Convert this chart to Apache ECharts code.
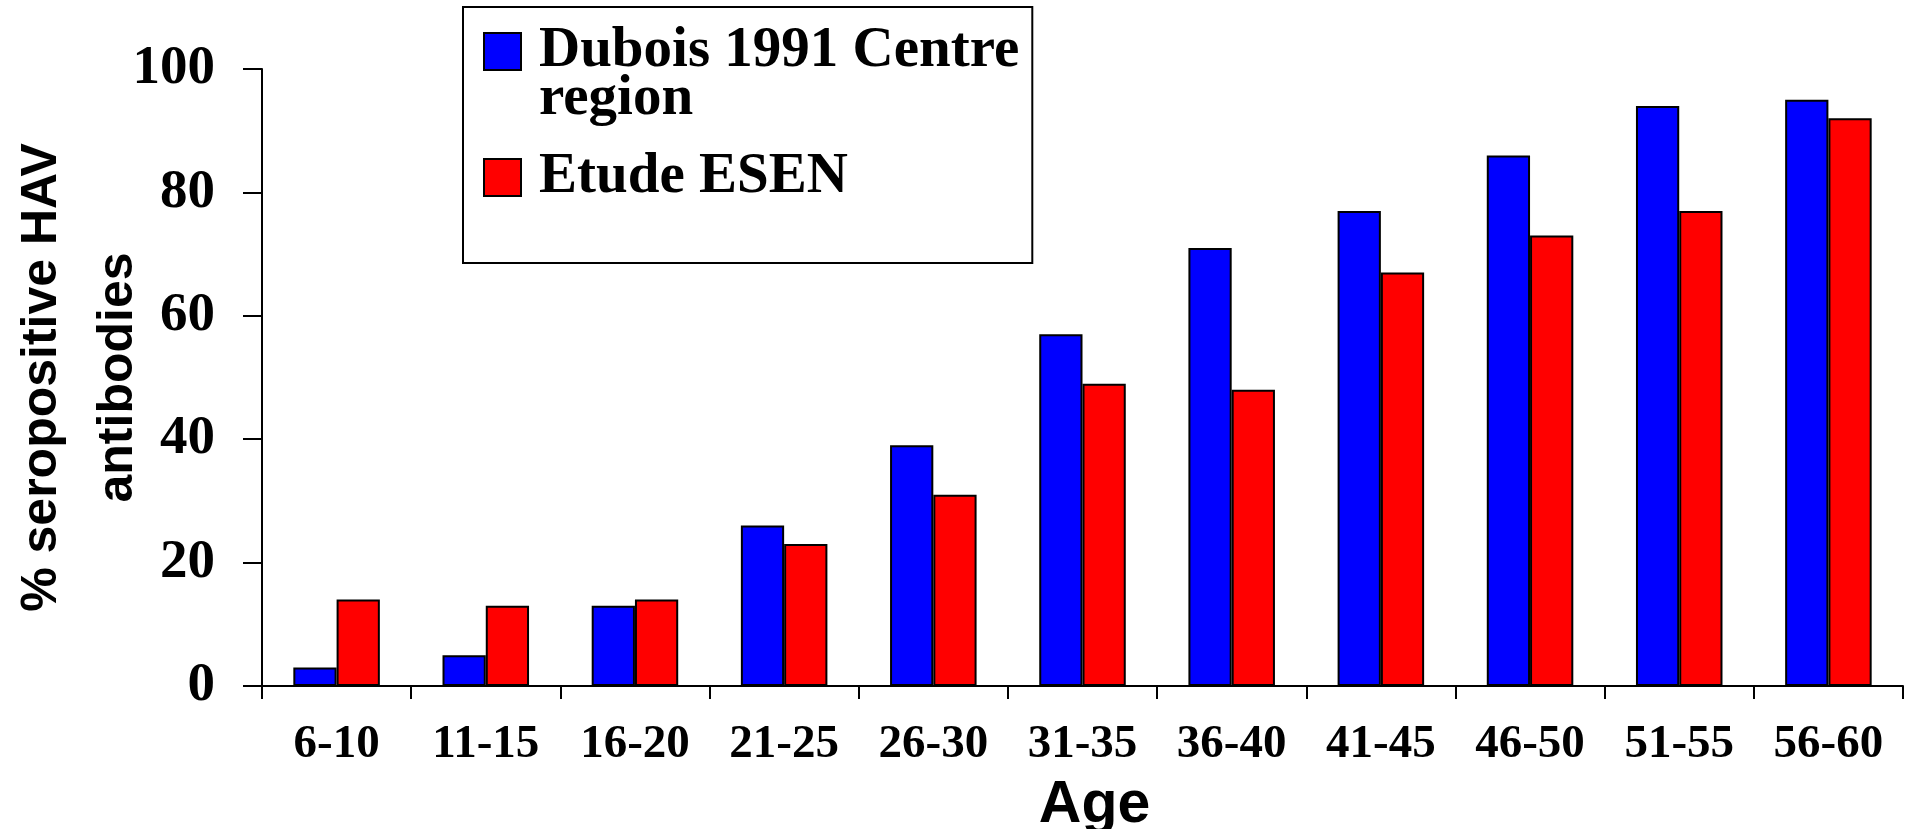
<!DOCTYPE html>
<html>
<head>
<meta charset="utf-8">
<title>HAV seroprevalence by age</title>
<script src="https://cdn.jsdelivr.net/npm/echarts@6/dist/echarts.min.js"></script>
<style>
  html, body { margin: 0; padding: 0; background: #fff; }
  #chart { width: 1913px; height: 829px; }
</style>
</head>
<body>
<div id="chart"></div>
<script>
// age groups on the x axis
var ageGroups = ['6-10', '11-15', '16-20', '21-25', '26-30', '31-35', '36-40', '41-45', '46-50', '51-55', '56-60'];
// % seropositive
var dubois = [3, 5, 13, 26, 39, 57, 71, 77, 86, 94, 95];
var esen = [14, 13, 14, 23, 31, 49, 48, 67, 73, 77, 92];
var seriesNames = ['Dubois 1991 Centre\nregion', 'Etude ESEN'];

var serif = '"Liberation Serif", "Times New Roman", serif';
var sans = '"Liberation Sans", Arial, sans-serif';

// legend swatches: square at the top of a tall item box (so it sits on the first line)
// and a square in the middle of the same box for the one-line entry
var swatchTop = 'path://M0,0h37v37h-37z M37,85';
var swatchMid = 'path://M0,0 M0,24h37v37h-37z M37,85';

var myChart = echarts.init(document.getElementById('chart'));
var option;

option = {
  animation: false,
  backgroundColor: '#fff',
  grid: {
    left: 262,
    right: 10,
    top: 69,
    bottom: 143,
    containLabel: false,
    outerBoundsMode: 'none'
  },
  legend: {
    left: 463,
    top: 7,
    orient: 'vertical',
    padding: [16, 13, 42, 20],
    itemGap: 6,
    itemWidth: 37,
    itemHeight: 85,
    borderColor: '#000',
    borderWidth: 2,
    backgroundColor: '#fff',
    itemStyle: {
      borderColor: '#000',
      borderWidth: 2
    },
    textStyle: {
      fontFamily: serif,
      fontWeight: 'bold',
      fontSize: 57,
      lineHeight: 48,
      color: '#000',
      padding: [0, 0, 0, 13]
    },
    data: [
      { name: seriesNames[0], icon: swatchTop },
      { name: seriesNames[1], icon: swatchMid }
    ]
  },
  xAxis: {
    type: 'category',
    data: ageGroups,
    name: 'Age',
    nameLocation: 'middle',
    nameGap: 90,
    nameMoveOverlap: false,
    nameTextStyle: {
      fontFamily: sans,
      fontWeight: 'bold',
      fontSize: 59,
      color: '#000',
      padding: [0, 0, 0, 24]
    },
    axisLine: { show: true, onZero: false, lineStyle: { color: '#000', width: 2 } },
    axisTick: { show: true, length: 13, lineStyle: { color: '#000', width: 2 } },
    axisLabel: {
      margin: 35,
      fontFamily: serif,
      fontWeight: 'bold',
      fontSize: 47,
      color: '#000'
    }
  },
  yAxis: {
    type: 'value',
    min: 0,
    max: 100,
    interval: 20,
    name: '% seropositive HAV\nantibodies',
    nameLocation: 'middle',
    nameRotate: 90,
    nameGap: 106,
    nameMoveOverlap: false,
    nameTextStyle: {
      fontFamily: sans,
      fontWeight: 'bold',
      fontSize: 50,
      lineHeight: 76,
      color: '#000'
    },
    splitLine: { show: false },
    axisLine: { show: true, onZero: false, lineStyle: { color: '#000', width: 2 } },
    axisTick: { show: true, inside: false, length: 19, lineStyle: { color: '#000', width: 2 } },
    axisLabel: {
      margin: 47,
      fontFamily: serif,
      fontWeight: 'bold',
      fontSize: 55,
      color: '#000'
    }
  },
  series: [
    {
      name: seriesNames[0],
      type: 'bar',
      data: dubois,
      barGap: '0%',
      barCategoryGap: '42%',
      itemStyle: { color: '#0000ff', borderColor: '#000', borderWidth: 2 }
    },
    {
      name: seriesNames[1],
      type: 'bar',
      data: esen,
      itemStyle: { color: '#ff0000', borderColor: '#000', borderWidth: 2 }
    }
  ]
};

myChart.setOption(option);
window.addEventListener('resize', function () {
  myChart.resize();
});
</script>
</body>
</html>
